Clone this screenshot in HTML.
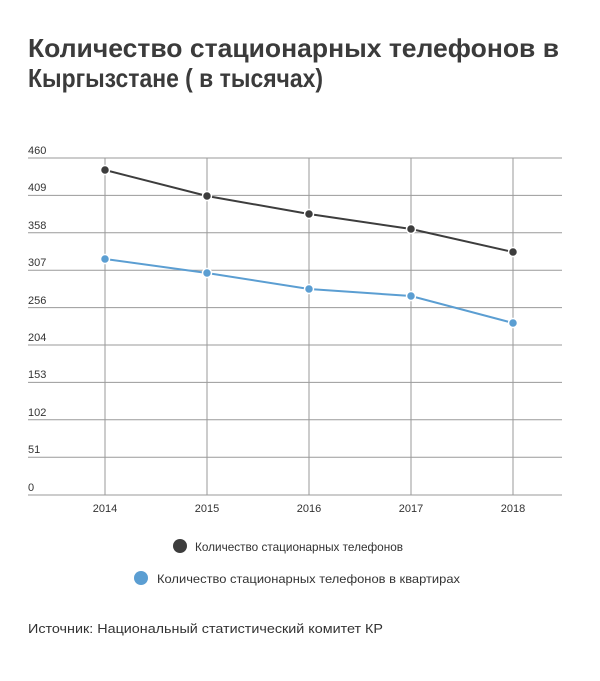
<!DOCTYPE html>
<html><head><meta charset="utf-8"><style>body{margin:0;background:#fff}svg{display:block}</style></head><body>
<svg width="600" height="681" xmlns="http://www.w3.org/2000/svg" font-family="Liberation Sans, DejaVu Sans, sans-serif">
<rect width="600" height="681" fill="#fff"/>
<g fill="#3b3b3b" font-weight="bold" font-size="26">
<text x="28" y="57" textLength="531" lengthAdjust="spacingAndGlyphs">Количество стационарных телефонов в</text>
<text x="28" y="87" textLength="295" lengthAdjust="spacingAndGlyphs">Кыргызстане ( в тысячах)</text>
</g>
<g stroke="#9a9a9a" stroke-width="1">
<line x1="28" x2="562" y1="158" y2="158"/><line x1="28" x2="562" y1="195.4" y2="195.4"/>
<line x1="28" x2="562" y1="232.8" y2="232.8"/><line x1="28" x2="562" y1="270.2" y2="270.2"/>
<line x1="28" x2="562" y1="307.6" y2="307.6"/><line x1="28" x2="562" y1="345" y2="345"/>
<line x1="28" x2="562" y1="382.4" y2="382.4"/><line x1="28" x2="562" y1="419.8" y2="419.8"/>
<line x1="28" x2="562" y1="457.2" y2="457.2"/><line x1="28" x2="562" y1="495" y2="495"/>
<line x1="105" x2="105" y1="158" y2="495"/><line x1="207" x2="207" y1="158" y2="495"/>
<line x1="309" x2="309" y1="158" y2="495"/><line x1="411" x2="411" y1="158" y2="495"/>
<line x1="513" x2="513" y1="158" y2="495"/>
</g>
<g fill="#333" font-size="11">
<text x="28" y="154">460</text><text x="28" y="191">409</text><text x="28" y="229">358</text>
<text x="28" y="266">307</text><text x="28" y="304">256</text><text x="28" y="341">204</text>
<text x="28" y="378">153</text><text x="28" y="416">102</text><text x="28" y="453">51</text>
<text x="28" y="491">0</text>
</g>
<g fill="#333" font-size="11" text-anchor="middle">
<text x="105" y="512">2014</text><text x="207" y="512">2015</text><text x="309" y="512">2016</text>
<text x="411" y="512">2017</text><text x="513" y="512">2018</text>
</g>
<polyline points="105,170 207,196 309,214 411,229 513,252" fill="none" stroke="#3d3d3d" stroke-width="2"/>
<polyline points="105,259 207,273 309,289 411,296 513,323" fill="none" stroke="#5b9ed2" stroke-width="2"/>
<g fill="#3d3d3d" stroke="#fff" stroke-width="1.5">
<circle cx="105" cy="170" r="4.5"/><circle cx="207" cy="196" r="4.5"/><circle cx="309" cy="214" r="4.5"/><circle cx="411" cy="229" r="4.5"/><circle cx="513" cy="252" r="4.5"/>
</g>
<g fill="#5b9ed2" stroke="#fff" stroke-width="1.5">
<circle cx="105" cy="259" r="4.5"/><circle cx="207" cy="273" r="4.5"/><circle cx="309" cy="289" r="4.5"/><circle cx="411" cy="296" r="4.5"/><circle cx="513" cy="323" r="4.5"/>
</g>
<circle cx="180" cy="546" r="7" fill="#3d3d3d"/>
<text x="195" y="551" font-size="12" fill="#333" textLength="208" lengthAdjust="spacingAndGlyphs">Количество стационарных телефонов</text>
<circle cx="141" cy="578" r="7" fill="#5b9ed2"/>
<text x="157" y="583" font-size="12" fill="#333" textLength="303" lengthAdjust="spacingAndGlyphs">Количество стационарных телефонов в квартирах</text>
<text x="28" y="633" font-size="13" fill="#333" textLength="355" lengthAdjust="spacingAndGlyphs">Источник: Национальный статистический комитет КР</text>
</svg>
</body></html>
